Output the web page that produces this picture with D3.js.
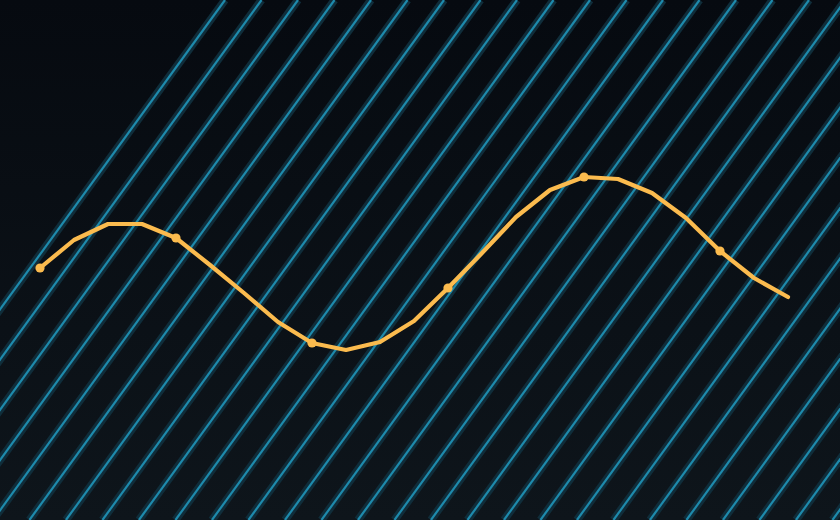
<!DOCTYPE html>
<head>
  <meta charset="utf-8">
  <script src="https://d3js.org/d3.v7.min.js"></script>
  <style>
    body { margin:0; background:#070b11; overflow:hidden; }
  </style>
</head>
<body>
  <script>
    // series, one value per step
    var steps = d3.range(0, 23);
    var values = [-4, 10, 18, 18, 11, -2.5, -16.5, -31, -41.5, -45, -41, -30.5,
                  -14, 3.5, 21.5, 35, 41.5, 40.5, 33.5, 21, 4.5, -9, -18.5];
    var markedEvery = 4;

    var width = 840, height = 520;

    var svg = d3.select("body")
      .append("svg")
      .attr("width", width)
      .attr("height", height);

    var defs = svg.append("defs");
    var grad = defs.append("linearGradient")
      .attr("id", "bg")
      .attr("x1", 0).attr("y1", 0)
      .attr("x2", 0).attr("y2", 1);
    grad.append("stop").attr("offset", "0%").attr("stop-color", "#060a10");
    grad.append("stop").attr("offset", "100%").attr("stop-color", "#0e151b");

    svg.append("rect")
      .attr("width", width)
      .attr("height", height)
      .attr("fill", "url(#bg)");

    // diagonal stripes, each one a glow band with a thin core
    var slant = 0.727 * height;   // horizontal drift top -> bottom
    var gap = 36.5;
    var stripes = d3.range(225, width + slant + gap, gap);

    var stripeG = svg.append("g");
    [{w: 8, c: "#102d3a"}, {w: 2.2, c: "#1e8aac"}].forEach(function (s) {
      stripeG.selectAll(null)
        .data(stripes)
        .enter()
        .append("line")
        .attr("x1", function (d) { return d; })
        .attr("y1", 0)
        .attr("x2", function (d) { return d - slant; })
        .attr("y2", height)
        .attr("stroke", s.c)
        .attr("stroke-width", s.w);
    });

    var x = d3.scaleLinear().domain([0, 22]).range([40, 788]);
    var y = d3.scaleLinear().domain([-100, 100]).range([460, 60]);

    var line = d3.line()
      .x(function (d, i) { return x(steps[i]); })
      .y(function (d) { return y(d); });

    svg.append("path")
      .datum(values)
      .attr("d", line)
      .attr("fill", "none")
      .attr("stroke", "#fbbb4e")
      .attr("stroke-width", 4.2)
      .attr("stroke-linejoin", "round")
      .attr("stroke-linecap", "round");

    svg.selectAll("circle")
      .data(values.filter(function (d, i) { return i % markedEvery == 0; }))
      .enter()
      .append("circle")
      .attr("cx", function (d, i) { return x(steps[i * markedEvery]); })
      .attr("cy", function (d) { return y(d); })
      .attr("r", 4.6)
      .attr("fill", "#fbbb4e");
  </script>
</body>
